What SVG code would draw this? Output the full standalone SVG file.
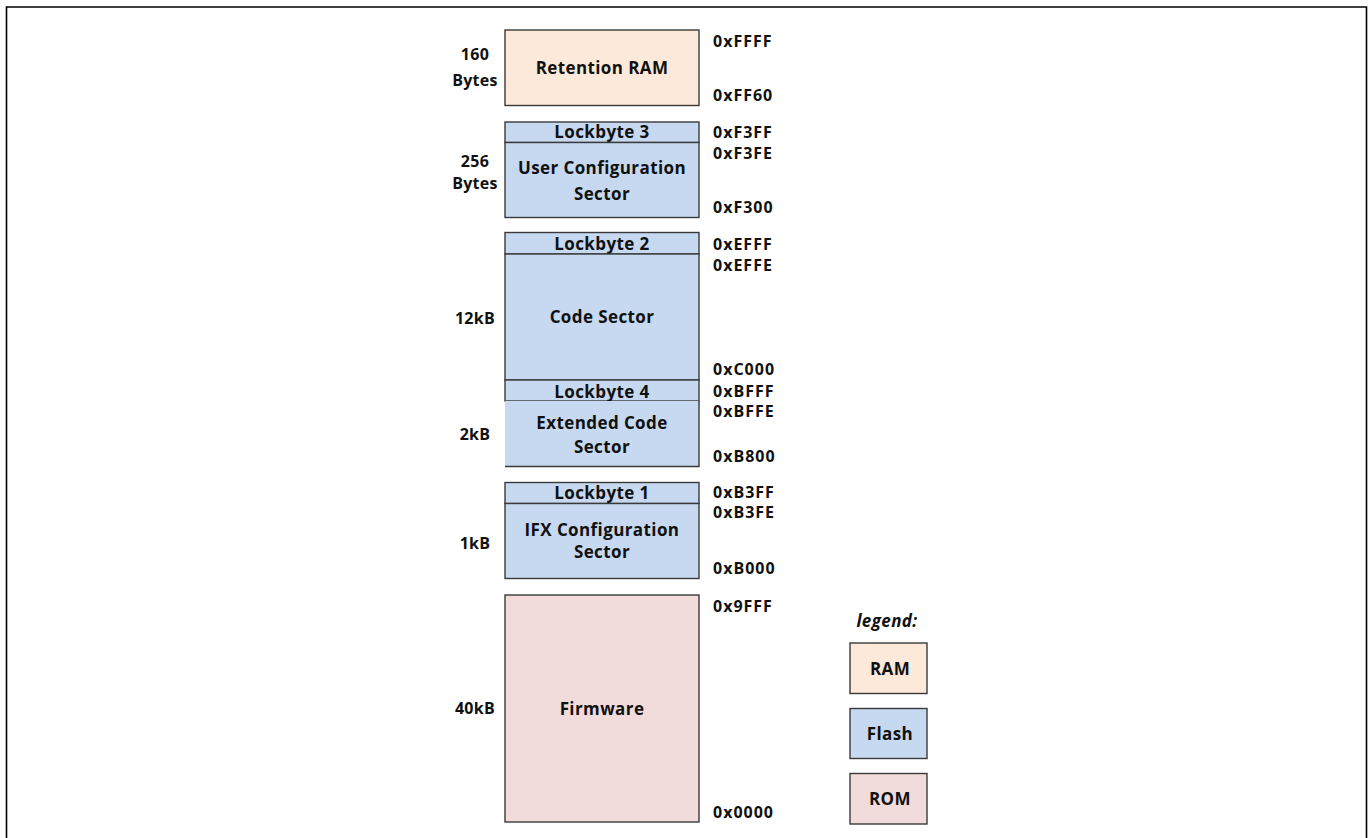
<svg xmlns="http://www.w3.org/2000/svg" width="1370" height="838" viewBox="0 0 1370 838">
<style>
text{font-family:"Open Sans","Liberation Sans",sans-serif;font-weight:bold;fill:#111;font-size:17px}
.lbl{text-anchor:middle;letter-spacing:0.4px}
.addr{font-size:16px;letter-spacing:1px}
.size{text-anchor:middle;font-size:16px;letter-spacing:0.3px}
.ram{fill:#FDE9D9;stroke:#3a3a3a;stroke-width:1.4}
.flash{fill:#C6D9F0;stroke:#3a3a3a;stroke-width:1.4}
.rom{fill:#F2DCDB;stroke:#3a3a3a;stroke-width:1.4}
.frame{fill:none;stroke:#000;stroke-width:1.6}
</style>
<rect width="1370" height="838" fill="#fff"/>
<path class="frame" d="M6.5,838 V7 H1366.5 V838"/>

<g id="retention-ram">
<rect class="ram" x="505" y="30" width="194" height="75.5"/>
<text class="lbl" x="602" y="74">Retention RAM</text>
<text class="size" x="475" y="60">160</text>
<text class="size" x="475" y="86">Bytes</text>
<text class="addr" x="713" y="47">0xFFFF</text>
<text class="addr" x="713" y="101">0xFF60</text>
</g>

<g id="lockbyte-3">
<rect class="flash" x="505" y="122" width="194" height="20.5"/>
<text class="lbl" x="602" y="138">Lockbyte 3</text>
<text class="addr" x="713" y="138">0xF3FF</text>
</g>
<g id="user-config">
<rect class="flash" x="505" y="142.5" width="194" height="75"/>
<text class="lbl" x="602" y="174">User Configuration</text>
<text class="lbl" x="602" y="199.5">Sector</text>
<text class="size" x="475" y="166.5">256</text>
<text class="size" x="475" y="189">Bytes</text>
<text class="addr" x="713" y="159">0xF3FE</text>
<text class="addr" x="713" y="213">0xF300</text>
</g>

<g id="lockbyte-2">
<rect class="flash" x="505" y="232.5" width="194" height="21.5"/>
<text class="lbl" x="602" y="250">Lockbyte 2</text>
<text class="addr" x="713" y="249.5">0xEFFF</text>
</g>
<g id="code-sector">
<rect class="flash" x="505" y="254" width="194" height="126"/>
<text class="lbl" x="602" y="322.5">Code Sector</text>
<text class="size" x="475" y="324">12kB</text>
<text class="addr" x="713" y="271">0xEFFE</text>
<text class="addr" x="713" y="375">0xC000</text>
</g>

<g id="lockbyte-4">
<rect class="flash" x="505" y="380" width="194" height="21"/>
<text class="lbl" x="602" y="397.5">Lockbyte 4</text>
<text class="addr" x="713" y="397">0xBFFF</text>
</g>
<g id="extended-code">
<rect x="505" y="401" width="194" height="65.5" fill="#C6D9F0"/>
<path d="M505,466.5 H699 V401" fill="none" stroke="#3a3a3a" stroke-width="1.4"/>
<text class="lbl" x="602" y="429">Extended Code</text>
<text class="lbl" x="602" y="453">Sector</text>
<text class="size" x="475" y="440">2kB</text>
<text class="addr" x="713" y="417">0xBFFE</text>
<text class="addr" x="713" y="462">0xB800</text>
</g>

<g id="lockbyte-1">
<rect class="flash" x="505" y="482.5" width="194" height="21"/>
<text class="lbl" x="602" y="498.5">Lockbyte 1</text>
<text class="addr" x="713" y="498">0xB3FF</text>
</g>
<g id="ifx-config">
<rect class="flash" x="505" y="503.5" width="194" height="75"/>
<text class="lbl" x="602" y="535.5">IFX Configuration</text>
<text class="lbl" x="602" y="558">Sector</text>
<text class="size" x="475" y="548.5">1kB</text>
<text class="addr" x="713" y="518">0xB3FE</text>
<text class="addr" x="713" y="573.5">0xB000</text>
</g>

<g id="firmware">
<rect class="rom" x="505" y="595" width="194" height="227"/>
<text class="lbl" x="602" y="714.5">Firmware</text>
<text class="size" x="475" y="714">40kB</text>
<text class="addr" x="713" y="612">0x9FFF</text>
<text class="addr" x="713" y="818">0x0000</text>
</g>

<g id="legend">
<text class="lbl" x="887" y="627" font-style="italic">legend:</text>
<g id="legend-ram">
<rect class="ram" x="850" y="643" width="77" height="50.5"/>
<text class="lbl" x="890" y="674.5">RAM</text>
</g>
<g id="legend-flash">
<rect class="flash" x="850" y="708.5" width="77" height="50"/>
<text class="lbl" x="890" y="740">Flash</text>
</g>
<g id="legend-rom">
<rect class="rom" x="850" y="773.5" width="77" height="50.5"/>
<text class="lbl" x="890" y="804.5">ROM</text>
</g>
</g>
<g id="connectors"/>
</svg>
